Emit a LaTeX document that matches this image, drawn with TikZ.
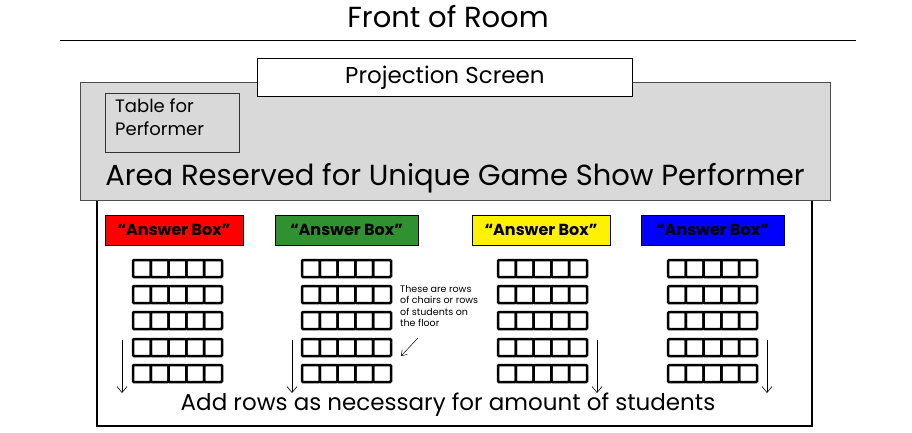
\documentclass[tikz,border=0pt]{standalone}
\usepackage{fontspec}
\setmainfont{Poppins}
\usetikzlibrary{arrows.meta}
\definecolor{ggray}{HTML}{D9D9D9}
\tikzset{
 seat/.style={draw=black,line width=2.5pt,rounded corners=1pt},
 ans/.style={draw=black,line width=0.6pt,minimum width=138pt,minimum height=30pt,inner sep=0pt,font=\fontsize{16}{16}\selectfont\bfseries},
 downarr/.style={-{Straight Barb[length=6pt,width=10pt]},line width=0.6pt},
 lbl/.style={inner sep=0pt}
}
\begin{document}
\begin{tikzpicture}[x=1pt,y=-1pt]
\useasboundingbox (0,0) rectangle (912,432);
\node[lbl,font=\fontsize{29}{29}\selectfont] (front) at (448,17) {Front of Room};
\coordinate (fl) at (60,40); \coordinate (fr) at (856,40);
\draw[line width=0.8pt] (fl) -- (fr);
% room outline
\draw[line width=2.5pt] (97,195) -- (97,426) -- (812,426) -- (812,195);
% reserved area
\node[draw=black!70,fill=ggray,line width=0.8pt,minimum width=750pt,minimum height=118pt,inner sep=0pt,anchor=north west] (area) at (80,82) {};
\node[lbl,font=\fontsize{29}{29}\selectfont] (areatxt) at (455,178) {Area Reserved for Unique Game Show Performer};
\node[draw=black,fill=white,line width=0.8pt,minimum width=375pt,minimum height=38pt,inner sep=0pt,anchor=north west,font=\fontsize{23}{23}\selectfont] (screen) at (257,58) {Projection Screen};
\node[draw=black!80,line width=0.8pt,minimum width=134pt,minimum height=59pt,inner sep=0pt,anchor=north west] (table) at (105,93) {};
\node[lbl,anchor=north west,align=left,font=\fontsize{18}{23}\selectfont] (tabletxt) at (115,99) {Table for\\Performer};
% answer boxes
\node[ans,fill=red] (a1) at (174,230) {“Answer Box”};
\node[ans,fill={rgb,255:red,47;green,145;blue,47},minimum width=143pt] (a2) at (346.5,230) {“Answer Box”};
\node[ans,fill=yellow] (a3) at (541,230) {“Answer Box”};
\node[ans,fill={rgb,255:red,0;green,0;blue,255},minimum width=143pt] (a4) at (712.5,230) {“Answer Box”};
% seats
\foreach \gx/\ax in {133/122,302/292,498/597,668/767}{
 \foreach \ry in {260,286,312,339,365}{
  \foreach \c in {0,...,4}{
   \draw[seat] ({\gx+\c*17.8},\ry) rectangle ({\gx+(\c+1)*17.8},\ry+17);
  }
 }
 \coordinate (s\gx) at (\ax,340); \coordinate (e\gx) at (\ax,393);
 \draw[downarr] (s\gx) -- (e\gx);
}
\node[lbl,anchor=north west,align=left,font=\fontsize{9.5}{11.5}\selectfont] (note) at (400,285) {These are rows\\of chairs or rows\\of students on\\the floor};
\coordinate (n1) at (418,338); \coordinate (n2) at (401,356);
\draw[-{Straight Barb[length=5pt,width=7pt]},line width=0.5pt] (n1) -- (n2);
\node[lbl,font=\fontsize{23}{23}\selectfont] (add) at (448,405) {Add rows as necessary for amount of students};
\end{tikzpicture}
\end{document}
